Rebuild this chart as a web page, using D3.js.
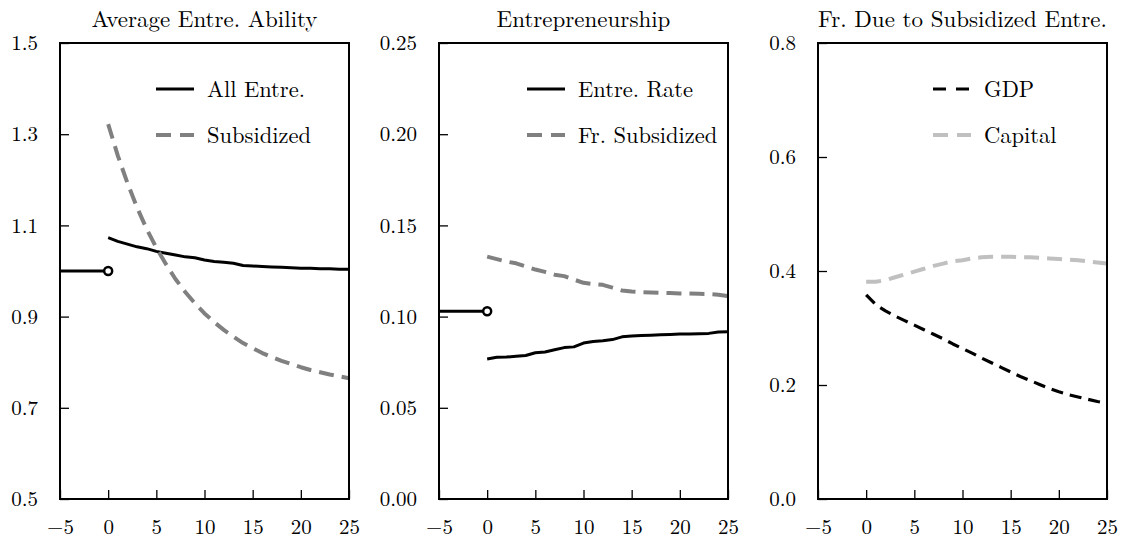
<!DOCTYPE html>
<html>
<head>
<meta charset="utf-8">
<script src="https://cdn.jsdelivr.net/npm/d3@7"></script>
<style>
  html, body { margin: 0; padding: 0; background: #fff; }
  svg { display: block; }
</style>
</head>
<body>
<svg id="chart" width="1125" height="539"></svg>
<script>
// ---------------- DATA ----------------
const periods = d3.range(0, 26); // t = 0..25 after reform
const prePeriods = [-5, 0];

const xTicks = [-5, 0, 5, 10, 15, 20, 25];

// Panel 1: Average Entre. Ability
const abilityPre = [1.0, 1.0];
const abilityAll = [1.073, 1.065, 1.059, 1.053, 1.049, 1.043, 1.039, 1.035, 1.031, 1.029,
                    1.024, 1.021, 1.019, 1.017, 1.012, 1.011, 1.010, 1.009, 1.008, 1.007,
                    1.006, 1.006, 1.005, 1.005, 1.004, 1.004];
const abilitySub = [1.322, 1.253, 1.193, 1.139, 1.092, 1.051, 1.015, 0.982, 0.954, 0.929,
                    0.907, 0.888, 0.871, 0.856, 0.842, 0.831, 0.820, 0.811, 0.803, 0.796,
                    0.789, 0.783, 0.778, 0.773, 0.769, 0.765];
const abilityTicks = [0.5, 0.7, 0.9, 1.1, 1.3, 1.5];

// Panel 2: Entrepreneurship
const entrePre = [0.1029, 0.1029];
const entreRate = [0.0768, 0.0777, 0.0778, 0.0782, 0.0787, 0.0802, 0.0806, 0.0818, 0.0830, 0.0834,
                   0.0855, 0.0864, 0.0868, 0.0874, 0.0889, 0.0893, 0.0896, 0.0898, 0.0900, 0.0902,
                   0.0904, 0.0905, 0.0906, 0.0908, 0.0916, 0.0917];
const entreFrSub = [0.1329, 0.1315, 0.1302, 0.1292, 0.1275, 0.1258, 0.1245, 0.1230, 0.1222, 0.1203,
                    0.1185, 0.1179, 0.1174, 0.1159, 0.1143, 0.1137, 0.1134, 0.1132, 0.1130, 0.1129,
                    0.1127, 0.1126, 0.1125, 0.1124, 0.1120, 0.1112];
const entreTicks = [0, 0.05, 0.10, 0.15, 0.20, 0.25];

// Panel 3: Fr. Due to Subsidized Entre.
const frGDP = [0.358, 0.341, 0.330, 0.321, 0.313, 0.305, 0.297, 0.289, 0.281, 0.272,
               0.264, 0.256, 0.247, 0.239, 0.231, 0.223, 0.215, 0.208, 0.201, 0.194,
               0.188, 0.183, 0.179, 0.175, 0.171, 0.168];
const frCapital = [0.381, 0.381, 0.384, 0.389, 0.394, 0.399, 0.404, 0.409, 0.413, 0.417,
                   0.419, 0.422, 0.424, 0.425, 0.425, 0.425, 0.424, 0.424, 0.423, 0.422,
                   0.421, 0.420, 0.419, 0.417, 0.415, 0.413];
const frTicks = [0, 0.2, 0.4, 0.6, 0.8];

const titles = ["Average Entre. Ability", "Entrepreneurship", "Fr. Due to Subsidized Entre."];

// ---------------- LAYOUT / STYLE ----------------
const svg = d3.select("#chart");
const plotTop = 43, plotBottom = 499;
const FONT = '"Latin Modern Roman", "Liberation Serif", serif';
const FS_TITLE = 23, FS_TICK = 21, FS_LEG = 22.5;

const panels = [
  {
    left: 60, right: 349, title: titles[0], domain: [0.5, 1.5], ticks: abilityTicks, fmt: d3.format(".1f"),
    pre: abilityPre,
    series: [
      { name: "All Entre.", values: abilityAll, color: "#000", width: 3, dash: null, ldash: null },
      { name: "Subsidized", values: abilitySub, color: "#808080", width: 4, dash: "15,8", ldash: "15,9" }
    ],
    legendX: 96
  },
  {
    left: 439, right: 728, title: titles[1], domain: [0, 0.25], ticks: entreTicks, fmt: d3.format(".2f"),
    pre: entrePre,
    series: [
      { name: "Entre. Rate", values: entreRate, color: "#000", width: 3, dash: null, ldash: null },
      { name: "Fr. Subsidized", values: entreFrSub, color: "#808080", width: 4, dash: "15,8", ldash: "15,9" }
    ],
    legendX: 88
  },
  {
    left: 818, right: 1107, title: titles[2], domain: [0, 0.8], ticks: frTicks, fmt: d3.format(".1f"),
    pre: null,
    series: [
      { name: "GDP", values: frGDP, color: "#000", width: 3.2, dash: "12,7", ldash: "13,10" },
      { name: "Capital", values: frCapital, color: "#c0c0c0", width: 4, dash: "15,8", ldash: "15,9" }
    ],
    legendX: 115
  }
];

panels.forEach(p => {
  const x = d3.scaleLinear().domain([-5, 25]).range([p.left, p.right]);
  const y = d3.scaleLinear().domain(p.domain).range([plotBottom, plotTop]);
  const g = svg.append("g");

  // title
  g.append("text")
    .attr("x", (p.left + p.right) / 2)
    .attr("y", 27)
    .attr("text-anchor", "middle")
    .style("font-family", FONT)
    .style("font-size", FS_TITLE + "px")
    .style("fill", "#000")
    .text(p.title);

  // y axis (inward ticks)
  const ya = g.append("g")
    .attr("transform", `translate(${p.left},0)`)
    .call(d3.axisLeft(y).tickValues(p.ticks).tickFormat(p.fmt).tickSize(-9).tickPadding(22));
  ya.select(".domain").remove();
  ya.selectAll(".tick line").attr("stroke", "#000").attr("stroke-width", 1.3);
  ya.selectAll(".tick text").style("font-size", FS_TICK + "px").style("font-family", FONT).style("fill", "#000");

  // x axis (inward ticks)
  const xa = g.append("g")
    .attr("transform", `translate(0,${plotBottom})`)
    .call(d3.axisBottom(x).tickValues(xTicks).tickFormat(d3.format("d")).tickSize(-9).tickPadding(20));
  xa.select(".domain").remove();
  xa.selectAll(".tick line").attr("stroke", "#000").attr("stroke-width", 1.3);
  xa.selectAll(".tick text").style("font-size", FS_TICK + "px").style("font-family", FONT).style("fill", "#000");

  const line = d3.line().x(d => x(d[0])).y(d => y(d[1]));

  // series
  p.series.forEach(s => {
    const pts = periods.map((t, i) => [t, s.values[i]]);
    g.append("path")
      .attr("d", line(pts))
      .attr("fill", "none")
      .attr("stroke", s.color)
      .attr("stroke-width", s.width)
      .attr("stroke-dasharray", s.dash)
      .attr("stroke-linejoin", "round");
  });

  // pre-reform steady state + open marker
  if (p.pre) {
    const prePts = prePeriods.map((t, i) => [t, p.pre[i]]);
    g.append("path")
      .attr("d", line(prePts))
      .attr("fill", "none")
      .attr("stroke", "#000")
      .attr("stroke-width", 3);
    g.append("circle")
      .attr("cx", x(prePeriods[1]))
      .attr("cy", y(p.pre[1]))
      .attr("r", 4)
      .attr("fill", "#fff")
      .attr("stroke", "#000")
      .attr("stroke-width", 2.5);
  }

  // frame
  g.append("rect")
    .attr("x", p.left).attr("y", plotTop)
    .attr("width", p.right - p.left).attr("height", plotBottom - plotTop)
    .attr("fill", "none").attr("stroke", "#000").attr("stroke-width", 2);

  // legend
  p.series.forEach((s, i) => {
    const ly = 89 + i * 46;
    const lx = p.left + p.legendX;
    g.append("line")
      .attr("x1", lx).attr("x2", lx + 38)
      .attr("y1", ly).attr("y2", ly)
      .attr("stroke", s.color)
      .attr("stroke-width", s.width)
      .attr("stroke-dasharray", s.ldash);
    g.append("text")
      .attr("x", lx + 51)
      .attr("y", ly + 8)
      .style("font-family", FONT)
      .style("font-size", FS_LEG + "px")
      .style("fill", "#000")
      .text(s.name);
  });
});
</script>
</body>
</html>
